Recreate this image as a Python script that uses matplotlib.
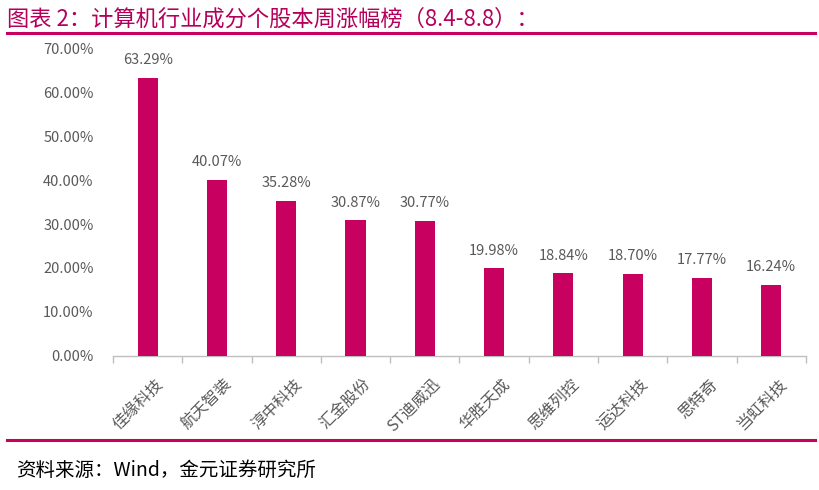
import matplotlib.pyplot as plt
from matplotlib.lines import Line2D
import numpy as np

plt.rcParams['font.family'] = ['Noto Sans CJK SC', 'DejaVu Sans']

# 数据
stocks = ['佳缘科技', '航天智装', '淳中科技', '汇金股份', 'ST迪威迅',
          '华胜天成', '思维列控', '运达科技', '思特奇', '当虹科技']
weekly_change = [63.29, 40.07, 35.28, 30.87, 30.77, 19.98, 18.84, 18.70, 17.77, 16.24]
y_ticks = [0, 10, 20, 30, 40, 50, 60, 70]

BAR_COLOR = '#C8005F'
TEXT_GRAY = '#595959'

fig = plt.figure(figsize=(8.19, 4.90), dpi=100)
ax = fig.add_axes([0.138, 0.2735, 0.846, 0.6285])

x = np.arange(len(stocks))
ax.bar(x, weekly_change, width=0.29, color=BAR_COLOR, zorder=3)
for xi, v in zip(x, weekly_change):
    ax.text(xi, v + 2.4, f'{v:.2f}%', ha='center', va='bottom', fontsize=10.5, color=TEXT_GRAY)

ax.set_xlim(-0.5, len(stocks) - 0.5)
ax.set_ylim(0, 70)
ax.set_yticks(y_ticks)
ax.set_yticklabels([f'{t:.2f}%' for t in y_ticks], fontsize=10.5, color=TEXT_GRAY)
ax.tick_params(axis='y', length=0, pad=14)

# x 轴：类别间刻度
ax.set_xticks(np.arange(-0.5, len(stocks), 1.0))
ax.set_xticklabels([])
ax.tick_params(axis='x', length=5, color='#BFBFBF', width=1)
for xi, name in zip(x, stocks):
    ax.text(xi + 0.1, -4.5, name, rotation=45, ha='right', va='top',
            rotation_mode='anchor', fontsize=11.5, color=TEXT_GRAY)

for s in ['top', 'right', 'left']:
    ax.spines[s].set_visible(False)
ax.spines['bottom'].set_color('#BFBFBF')
ax.spines['bottom'].set_linewidth(1)

# 标题与分隔线
fig.text(0.008, 0.985, '图表 2：计算机行业成分个股本周涨幅榜（8.4-8.8）：',
         ha='left', va='top', fontsize=16, color='#B4005A')
fig.add_artist(Line2D([0.008, 0.995], [0.932, 0.932], color=BAR_COLOR, lw=2.2))
fig.add_artist(Line2D([0.008, 0.995], [0.102, 0.102], color=BAR_COLOR, lw=2.2))
fig.text(0.020, 0.04, '资料来源：Wind，金元证券研究所', ha='left', va='center',
         fontsize=14, color='black')

plt.savefig('out.png', dpi=100, facecolor='white')
plt.close()
